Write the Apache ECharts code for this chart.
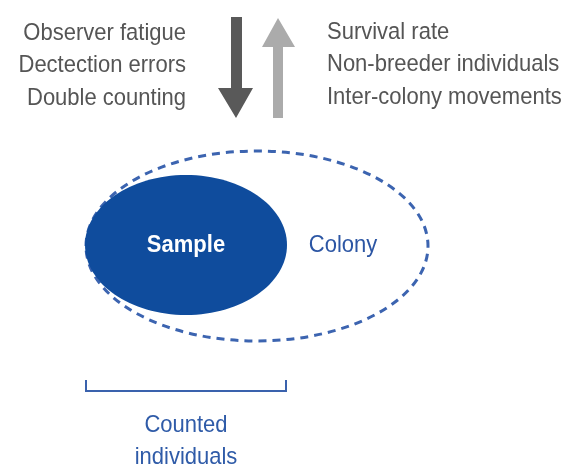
<!DOCTYPE html>
<html>
<head>
<meta charset="utf-8">
<script src="https://cdn.jsdelivr.net/npm/echarts@6/dist/echarts.min.js"></script>
<style>
html,body{margin:0;padding:0;background:#fff;}
#c{width:574px;height:468px;}
</style>
</head>
<body>
<div id="c"></div>
<script>
// Text content of the diagram
var decreaseFactors = ['Observer fatigue', 'Dectection errors', 'Double counting'];
var increaseFactors = ['Survival rate', 'Non-breeder individuals', 'Inter-colony movements'];
var sampleLabel = 'Sample';
var colonyLabel = 'Colony';
var countedLabel = ['Counted', 'individuals'];

var FONT = '"Liberation Sans", Arial, sans-serif';
var GRAY_TEXT = '#555555';
var BLUE = '#0f4c9d';
var BLUE_LINE = '#3a62ad';
var SY = 1.12;

var elements = [];

// left factors (right-aligned)
decreaseFactors.forEach(function (t, i) {
  elements.push({
    type: 'text', x: 186, y: 33 + i * 32.5, scaleY: SY,
    style: { text: t, fill: GRAY_TEXT, font: '22px ' + FONT, textAlign: 'right', textVerticalAlign: 'middle' }
  });
});
// right factors (left-aligned)
increaseFactors.forEach(function (t, i) {
  elements.push({
    type: 'text', x: 327, y: 32 + i * 32.5, scaleY: SY,
    style: { text: t, fill: GRAY_TEXT, font: '22px ' + FONT, textAlign: 'left', textVerticalAlign: 'middle' }
  });
});

// down arrow (dark)
elements.push({
  type: 'polygon',
  shape: { points: [[231,17],[242,17],[242,88],[253,88],[236,118],[218,88],[231,88]] },
  style: { fill: '#595959' }
});
// up arrow (light)
elements.push({
  type: 'polygon',
  shape: { points: [[273,118],[283,118],[283,47],[295,47],[278,18],[262,47],[273,47]] },
  style: { fill: '#ababab' }
});

// colony dashed ellipse
elements.push({
  type: 'ellipse',
  shape: { cx: 257, cy: 246, rx: 171, ry: 95 },
  style: { fill: null, stroke: '#3c64b0', lineWidth: 3, lineDash: [8, 6] },
  z: 1
});
// sample filled ellipse
elements.push({
  type: 'ellipse',
  shape: { cx: 186, cy: 245, rx: 101, ry: 70 },
  style: { fill: BLUE },
  z: 2
});
elements.push({
  type: 'text', x: 186, y: 245, z: 3, scaleY: SY,
  style: { text: sampleLabel, fill: '#ffffff', font: 'bold 22px ' + FONT, textAlign: 'center', textVerticalAlign: 'middle' }
});
elements.push({
  type: 'text', x: 343, y: 245, z: 3, scaleY: SY,
  style: { text: colonyLabel, fill: '#2c56a4', font: '22px ' + FONT, textAlign: 'center', textVerticalAlign: 'middle' }
});

// bracket
elements.push({
  type: 'polyline',
  shape: { points: [[86,380],[86,391],[286,391],[286,380]] },
  style: { stroke: BLUE_LINE, lineWidth: 2, fill: null }
});
countedLabel.forEach(function (t, i) {
  elements.push({
    type: 'text', x: 186, y: 425 + i * 32, scaleY: SY,
    style: { text: t, fill: '#2f5ba8', font: '22px ' + FONT, textAlign: 'center', textVerticalAlign: 'middle' }
  });
});

var chart = echarts.init(document.getElementById('c'), null, { renderer: 'canvas' });
chart.setOption({
  backgroundColor: '#ffffff',
  animation: false,
  graphic: { elements: elements }
});
</script>
</body>
</html>
